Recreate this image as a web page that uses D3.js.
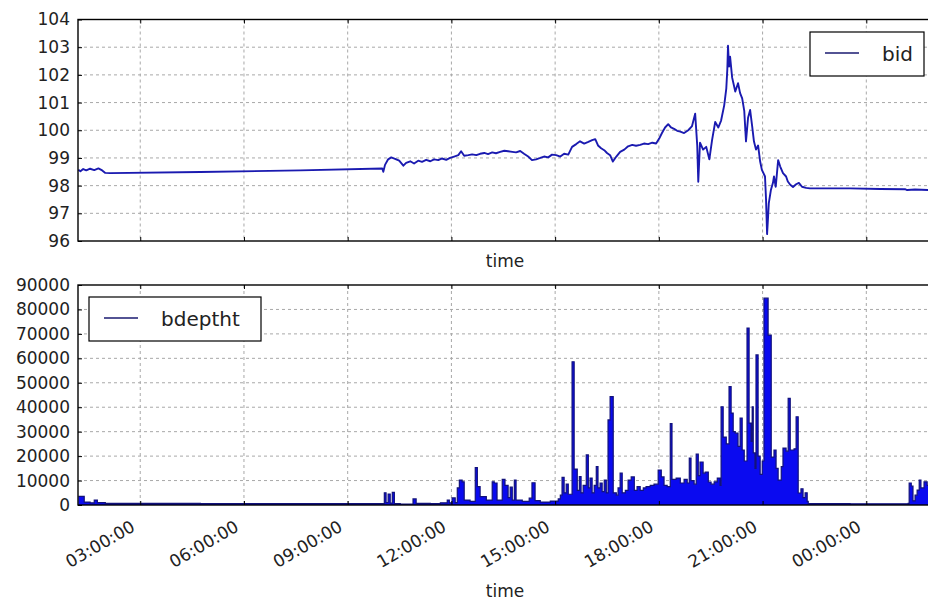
<!DOCTYPE html>
<html><head><meta charset="utf-8">
<script src="https://cdn.jsdelivr.net/npm/d3@7"></script>
<style>body{margin:0;background:#fff}svg{display:block}text{font-family:"DejaVu Sans",sans-serif;fill:#222}</style>
</head><body><svg id="c" width="928" height="601"></svg>
<script>
// ---- data (hours since midnight of day 1) ----
const bidHours = [1.21,1.27,1.35,1.44,1.55,1.67,1.79,1.90,1.99,2.13,4.74,7.63,10.0,10.03,10.08,10.17,10.26,10.37,10.49,10.61,10.69,10.81,10.92,11.04,11.15,11.27,11.39,11.50,11.62,11.73,11.85,11.96,12.08,12.20,12.28,12.37,12.49,12.60,12.72,12.83,12.95,13.06,13.18,13.29,13.41,13.53,13.64,13.76,13.87,13.99,14.10,14.22,14.33,14.45,14.57,14.68,14.80,14.91,15.03,15.15,15.26,15.38,15.49,15.61,15.72,15.84,15.96,16.07,16.16,16.24,16.33,16.42,16.50,16.59,16.67,16.77,16.88,17.00,17.11,17.23,17.34,17.46,17.57,17.69,17.81,17.92,18.01,18.09,18.18,18.27,18.35,18.44,18.53,18.62,18.73,18.85,18.96,19.05,19.11,19.14,19.19,19.28,19.37,19.46,19.54,19.63,19.72,19.80,19.89,19.95,19.98,20.00,20.03,20.06,20.12,20.21,20.29,20.35,20.41,20.47,20.52,20.58,20.64,20.70,20.75,20.81,20.87,20.93,20.98,21.07,21.10,21.13,21.16,21.18,21.24,21.30,21.33,21.38,21.45,21.51,21.59,21.68,21.73,21.80,21.88,21.97,22.05,22.14,22.26,22.37,23.53,24.40,25.12,25.18,25.41,25.85];
const bidValues = [98.57,98.52,98.60,98.55,98.61,98.56,98.62,98.55,98.46,98.45,98.49,98.55,98.62,98.50,98.75,98.95,99.02,98.97,98.90,98.72,98.82,98.88,98.80,98.90,98.86,98.93,98.88,98.95,98.92,98.98,98.93,99.00,99.05,99.10,99.24,99.08,99.10,99.13,99.10,99.15,99.18,99.14,99.20,99.17,99.22,99.26,99.24,99.22,99.20,99.25,99.15,99.05,98.92,98.95,99.00,99.05,99.02,99.12,99.10,99.05,99.15,99.12,99.40,99.50,99.60,99.52,99.58,99.64,99.68,99.45,99.35,99.28,99.18,99.10,98.87,99.05,99.22,99.30,99.42,99.47,99.44,99.47,99.52,99.50,99.55,99.52,99.70,99.90,100.10,100.22,100.10,100.05,99.98,99.95,99.90,100.00,100.15,100.60,99.45,98.14,99.55,99.30,99.40,98.95,99.65,100.30,100.10,100.35,100.90,101.50,102.20,103.05,102.30,102.66,101.90,101.40,101.70,101.34,101.15,100.70,99.60,100.45,100.73,100.13,99.60,99.30,99.45,98.87,98.57,98.33,97.50,96.25,96.90,97.37,97.84,98.10,98.33,97.96,98.92,98.69,98.45,98.33,98.15,98.03,97.95,98.05,98.10,97.96,97.92,97.90,97.90,97.88,97.87,97.84,97.86,97.84];

const depthHours = [1.21,1.38,1.55,1.67,1.76,1.99,4.74,10.0,10.06,10.11,10.17,10.23,10.29,10.35,10.52,10.89,10.98,11.39,11.68,11.88,11.94,12.02,12.11,12.17,12.23,12.31,12.37,12.54,12.69,12.75,12.83,13.01,13.18,13.24,13.32,13.47,13.55,13.64,13.70,13.76,13.82,13.87,14.05,14.25,14.33,14.42,14.57,14.86,15.09,
15.15,15.20,15.26,15.32,15.38,15.49,15.55,15.64,15.70,15.75,15.81,15.90,15.96,16.01,16.07,16.13,16.19,16.24,16.30,16.36,16.42,16.48,16.53,16.59,16.68,16.77,16.82,16.88,16.94,17.03,17.11,17.20,17.29,17.37,17.46,17.55,17.63,17.75,17.86,17.98,18.07,18.15,18.24,18.33,18.38,18.50,18.62,18.73,18.82,18.88,18.93,19.02,19.08,19.14,19.19,19.28,19.34,19.43,19.51,19.60,19.69,19.77,19.80,19.86,19.95,20.03,20.09,20.15,20.21,20.29,20.35,20.41,20.47,20.55,20.61,20.67,20.70,20.73,20.78,20.81,20.87,20.93,20.99,21.04,21.16,21.25,21.33,21.39,21.45,21.54,21.59,21.68,21.74,21.80,21.91,21.97,22.03,22.11,22.17,22.23,22.29,22.32,23.53,25.21,25.24,25.30,25.35,25.41,25.47,25.53,25.58,25.67,25.76,25.85];
const depthValues = [3500,1200,900,2000,1000,700,600,600,5000,1000,4500,800,5200,600,400,2500,700,600,900,2000,900,2900,1000,7000,10200,9500,2000,1500,15300,7500,3400,2000,9500,9000,2000,10500,8000,3000,7300,2000,10200,2000,1500,2800,9100,1800,1200,1600,2500,
4000,11300,5000,8600,4400,58600,14700,6000,11600,5000,8000,20500,7000,11000,5000,8000,15700,7000,9000,5500,10200,5000,34800,44300,5000,4000,7000,13000,5000,6000,10200,11500,6000,7500,6000,7000,7500,8000,8500,14300,11500,8000,7500,33300,10500,11000,9000,10500,9000,19200,10000,8500,20800,12000,17600,13000,13500,9400,8500,9500,11000,8000,40200,27800,25000,48400,37600,30000,29400,24000,35600,22500,18000,72400,33500,26000,40200,21300,15000,61400,20000,12500,18000,84600,69500,19600,22500,15000,10200,15700,23300,22000,43600,22500,23000,36100,4900,6600,3000,5000,1500,600,500,700,9000,7700,1700,4000,6100,10200,7000,9500,8000,6000];

const bidTicks = [96,97,98,99,100,101,102,103,104];
const depthTicks = [0,10000,20000,30000,40000,50000,60000,70000,80000,90000];
const timeTickHours = [3,6,9,12,15,18,21,24];
const timeTickLabels = ["03:00:00","06:00:00","09:00:00","12:00:00","15:00:00","18:00:00","21:00:00","00:00:00"];
const xDomainHours = [1.2, 25.9];

// ---- drawing ----
const base = new Date(2000,0,1,0,0,0).getTime();
const toDate = h => new Date(base + h*3600e3);
const svg = d3.select("#c");
const L = 78, R = 932;
const x = d3.scaleTime().domain(xDomainHours.map(toDate)).range([L, R]);
const tickDates = timeTickHours.map(toDate);

const panels = [
  {name:"bid", hours:bidHours, values:bidValues, ticks:bidTicks, top:19.5, bottom:241, step:false},
  {name:"bdeptht", hours:depthHours, values:depthValues, ticks:depthTicks, top:285, bottom:505, step:true}
];

panels.forEach((p, pi) => {
  const y = d3.scaleLinear().domain([p.ticks[0], p.ticks[p.ticks.length-1]]).range([p.bottom, p.top]);
  const g = svg.append("g");
  const id = "clip"+pi;
  svg.append("clipPath").attr("id", id).append("rect")
     .attr("x", L).attr("y", p.top).attr("width", R-L).attr("height", p.bottom-p.top);

  // grid
  g.append("g").selectAll("line").data(tickDates).join("line")
    .attr("x1", d=>x(d)).attr("x2", d=>x(d)).attr("y1", p.top).attr("y2", p.bottom)
    .attr("stroke","#a8a8a8").attr("stroke-dasharray","3,3");
  g.append("g").selectAll("line").data(p.ticks.slice(1,-1)).join("line")
    .attr("x1", L).attr("x2", R).attr("y1", d=>y(d)).attr("y2", d=>y(d))
    .attr("stroke","#a8a8a8").attr("stroke-dasharray","3,3");

  const pts = p.hours.map((h,i)=>[toDate(h), p.values[i]]);
  const dg = g.append("g").attr("clip-path", `url(#${id})`);
  if (p.step) {
    dg.append("path").datum(pts)
      .attr("d", d3.area().curve(d3.curveStepAfter).x(d=>x(d[0])).y0(y(0)).y1(d=>y(d[1])))
      .attr("fill","#0a0af0");
    dg.append("path").datum(pts)
      .attr("d", d3.line().curve(d3.curveStepAfter).x(d=>x(d[0])).y(d=>y(d[1])))
      .attr("fill","none").attr("stroke","#12127a").attr("stroke-width",1.2);
  } else {
    dg.append("path").datum(pts)
      .attr("d", d3.line().x(d=>x(d[0])).y(d=>y(d[1])))
      .attr("fill","none").attr("stroke","#1a1ab0").attr("stroke-width",1.9).attr("stroke-linejoin","round");
  }

  // ticks (inward)
  const ax = (gen, tx) => g.append("g").attr("transform", tx).call(gen).call(s=>s.select(".domain").remove());
  ax(d3.axisBottom(x).tickValues(tickDates).tickSize(-4).tickFormat(""), `translate(0,${p.bottom})`);
  ax(d3.axisTop(x).tickValues(tickDates).tickSize(-4).tickFormat(""), `translate(0,${p.top})`);
  ax(d3.axisRight(y).tickValues(p.ticks).tickSize(-4).tickFormat(""), `translate(${R},0)`);
  const ya = ax(d3.axisLeft(y).tickValues(p.ticks).tickSize(-4).tickPadding(8).tickFormat(d3.format("d")), `translate(${L},0)`);
  ya.selectAll("text").attr("font-size",17).attr("font-family","DejaVu Sans").attr("fill","#222");
  g.selectAll(".tick line").attr("stroke","#000");

  // frame
  g.append("rect").attr("x",L).attr("y",p.top).attr("width",R-L).attr("height",p.bottom-p.top)
    .attr("fill","none").attr("stroke","#000").attr("stroke-width",1.4);

  // x label
  g.append("text").attr("x",505).attr("y", pi===0 ? 267 : 597).attr("text-anchor","middle")
    .attr("font-size",17).text("time");

  // legend
  const lg = pi===0 ? {x:810,y:32,w:114,h:44} : {x:89,y:297,w:172,h:44};
  g.append("rect").attr("x",lg.x).attr("y",lg.y).attr("width",lg.w).attr("height",lg.h)
    .attr("fill","#fff").attr("stroke","#000").attr("stroke-width",1.2);
  g.append("line").attr("x1",lg.x+15).attr("x2",lg.x+49).attr("y1",lg.y+21).attr("y2",lg.y+21)
    .attr("stroke","#1a1a70").attr("stroke-width",1.3);
  g.append("text").attr("x",lg.x+72).attr("y",lg.y+29).attr("font-size",20).text(p.name);

  // x tick labels on bottom panel only
  if (pi===1) {
    g.append("g").selectAll("text").data(tickDates).join("text")
      .attr("transform", d=>`translate(${x(d)-4},${p.bottom+25}) rotate(-30)`)
      .attr("text-anchor","end").attr("font-size",17)
      .text((d,i)=>timeTickLabels[i]);
  }
});
</script></body></html>
